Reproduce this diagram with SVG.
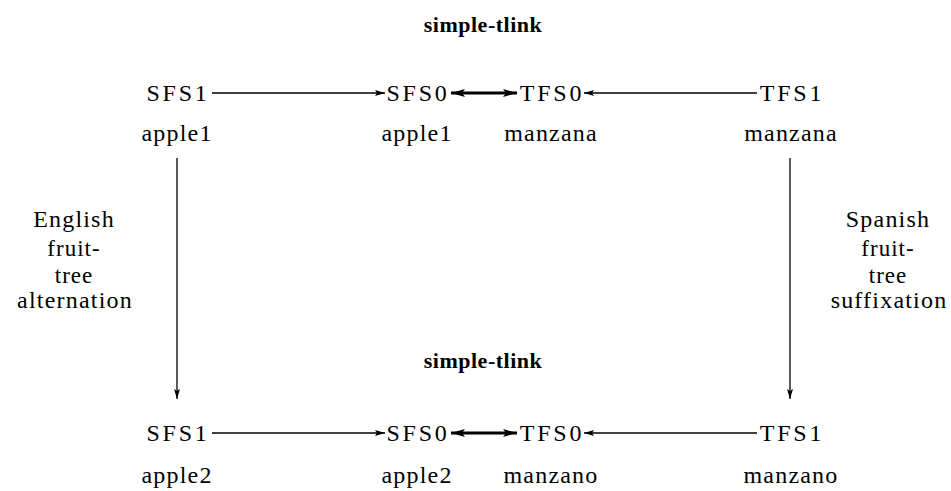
<svg xmlns="http://www.w3.org/2000/svg" width="951" height="491" viewBox="0 0 951 491">
<style>
text{font-family:'Liberation Serif','DejaVu Serif',serif;fill:#000;text-anchor:middle}
.n{font-size:24px;letter-spacing:2.8px}
.w{font-size:24px;letter-spacing:1.2px}
.t{font-size:22px;font-weight:bold;letter-spacing:0.5px}
.s{font-size:23px;letter-spacing:1px}
.c{fill:none;stroke:#000;stroke-width:1.3}
.k{fill:none;stroke:#000;stroke-width:3.2}
</style>
<defs>
<marker id="ah" viewBox="0 0 10 6" refX="10" refY="3" markerWidth="10" markerHeight="6" markerUnits="userSpaceOnUse" orient="auto"><path d="M0,0 L10,3 L0,6 L2,3 Z" fill="#000"/></marker>
<marker id="ahk" viewBox="0 0 14 8" refX="14" refY="4" markerWidth="14" markerHeight="8" markerUnits="userSpaceOnUse" orient="auto-start-reverse"><path d="M0,0 L14,4 L0,8 L3,4 Z" fill="#000"/></marker>
</defs>
<g id="title-top"><text class="t" x="483" y="32">simple-tlink</text></g>
<g id="title-bottom"><text class="t" x="483" y="368">simple-tlink</text></g>
<g id="sfs1-top"><text class="n" x="178" y="101">SFS1</text><text class="w" x="177" y="141">apple1</text></g>
<g id="sfs0-top"><text class="n" x="418" y="101">SFS0</text><text class="w" x="417" y="141">apple1</text></g>
<g id="tfs0-top"><text class="n" x="552" y="101">TFS0</text><text class="w" x="551" y="141">manzana</text></g>
<g id="tfs1-top"><text class="n" x="792" y="101">TFS1</text><text class="w" x="791" y="141">manzana</text></g>
<g id="sfs1-bot"><text class="n" x="178" y="441">SFS1</text><text class="w" x="177" y="483">apple2</text></g>
<g id="sfs0-bot"><text class="n" x="418" y="441">SFS0</text><text class="w" x="417" y="483">apple2</text></g>
<g id="tfs0-bot"><text class="n" x="552" y="441">TFS0</text><text class="w" x="551" y="483">manzano</text></g>
<g id="tfs1-bot"><text class="n" x="792" y="441">TFS1</text><text class="w" x="791" y="483">manzano</text></g>
<g id="label-english"><text class="w" x="74" y="227">English</text><text class="s" x="74" y="256">fruit-</text><text class="s" x="74" y="283">tree</text><text class="w" x="75" y="308">alternation</text></g>
<g id="label-spanish"><text class="w" x="888" y="227">Spanish</text><text class="s" x="888" y="256">fruit-</text><text class="s" x="888" y="283">tree</text><text class="w" x="889" y="308">suffixation</text></g>
<g id="connectors">
<line class="c" x1="212" y1="93" x2="385" y2="93" marker-end="url(#ah)"/>
<line class="c" x1="757" y1="93" x2="584" y2="93" marker-end="url(#ah)"/>
<line class="k" x1="451" y1="93" x2="517" y2="93" marker-start="url(#ahk)" marker-end="url(#ahk)"/>
<line class="c" x1="212" y1="433" x2="385" y2="433" marker-end="url(#ah)"/>
<line class="c" x1="757" y1="433" x2="584" y2="433" marker-end="url(#ah)"/>
<line class="k" x1="451" y1="433" x2="517" y2="433" marker-start="url(#ahk)" marker-end="url(#ahk)"/>
<line class="c" x1="177" y1="158" x2="177" y2="399" marker-end="url(#ah)"/>
<line class="c" x1="790" y1="158" x2="790" y2="399" marker-end="url(#ah)"/>
</g>
</svg>
